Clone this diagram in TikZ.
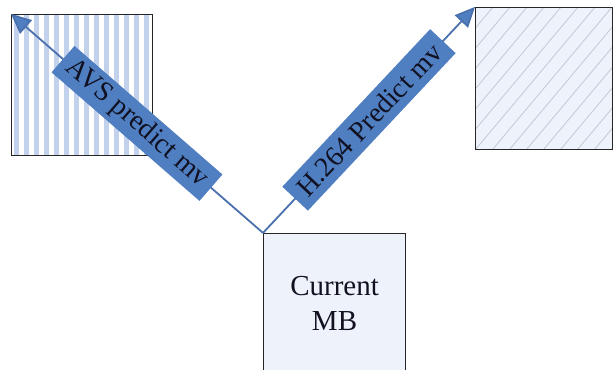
\documentclass[tikz,border=0pt]{standalone}
\usepackage{fontspec}
\setmainfont{Liberation Serif}
\usetikzlibrary{arrows.meta}
\definecolor{lblblue}{HTML}{4F7FC1}
\definecolor{linblue}{HTML}{4A70AE}
\definecolor{boxfill}{HTML}{EEF2FA}
\definecolor{stripe}{HTML}{C3D2EC}
\definecolor{hatchc}{HTML}{C4C9D4}
\definecolor{txt}{HTML}{111122}
\begin{document}
\begin{tikzpicture}[x=1pt,y=1pt,
  refbox/.style={draw=black!85, line width=1.1pt, inner sep=0pt, anchor=south west},
  mvlabel/.style={fill=lblblue, sloped, text=txt, font=\fontsize{28}{30}\selectfont, inner sep=0pt, minimum height=35pt},
  mvarrow/.style={draw=linblue, line width=1.8pt, -{Triangle[length=20pt,width=18pt,fill=lblblue]}}]
\useasboundingbox (0,0) rectangle (614,370);
\clip (0,0) rectangle (614,370);
\node[refbox, minimum width=141pt, minimum height=141pt, fill=white,
  path picture={\foreach \i in {0,...,14}
    \fill[stripe] ([shift={(\i*10+2,0)}]path picture bounding box.south west) rectangle ++(5,150);}] (avs) at (11,214) {};
\node[refbox, minimum width=137pt, minimum height=142pt, fill=boxfill,
  path picture={\foreach \i in {-12,...,10}
    \draw[hatchc, line width=0.8pt] ([shift={(\i*17,0)}]path picture bounding box.south west) -- ++(50:300);}] (hmv) at (475,220) {};
\node[refbox, minimum width=142pt, minimum height=139pt, fill=boxfill, align=center,
  text=txt, font=\fontsize{29}{35}\selectfont] (cur) at (263,-3) {Current\\MB};
\draw[mvarrow] (cur.north west) -- node[mvlabel, minimum width=196pt]{AVS predict mv} (avs.north west);
\draw[mvarrow] (cur.north west) -- node[mvlabel, minimum width=216pt]{H.264 Predict mv} (hmv.north west);
\end{tikzpicture}
\end{document}
